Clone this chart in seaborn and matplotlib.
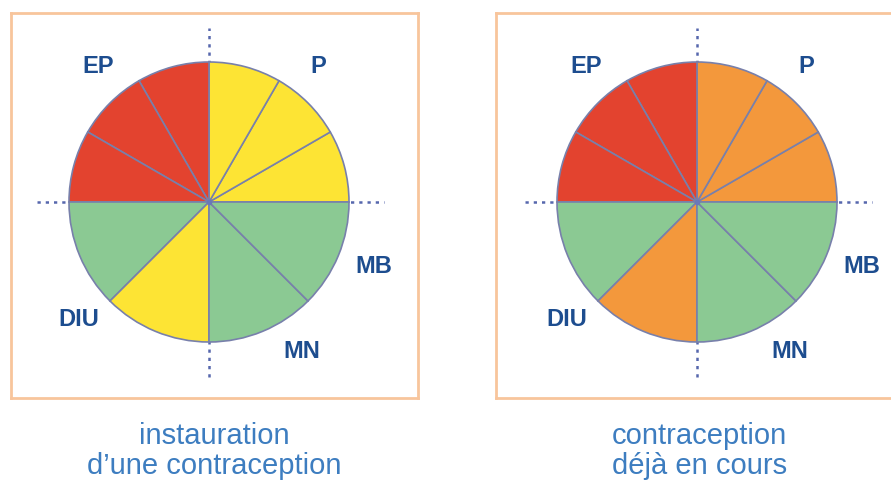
import matplotlib
matplotlib.use('Agg')
import matplotlib.pyplot as plt
import seaborn as sns

# slices, counter-clockwise from 3 o'clock (degrees)
slice_sizes = [30, 30, 30, 30, 30, 30, 45, 45, 45, 45]
# colour keys for each slice
left_slices = ['yellow', 'yellow', 'yellow', 'red', 'red', 'red', 'green', 'yellow', 'green', 'green']
right_slices = ['orange', 'orange', 'orange', 'red', 'red', 'red', 'green', 'orange', 'green', 'green']
method_labels = ['EP', 'P', 'MB', 'MN', 'DIU']
captions = ['instauration\nd\u2019une contraception', 'contraception\ndéjà en cours']

palette = {'red': '#e3432f', 'yellow': '#fde434', 'green': '#8bc993', 'orange': '#f3983c'}
label_pos = {'EP': (-0.79, 0.97), 'P': (0.78, 0.97), 'MB': (1.18, -0.46),
             'MN': (0.66, -1.07), 'DIU': (-0.93, -0.84)}

sns.set_theme(style='white')
plt.rcParams['font.family'] = ['Liberation Sans', 'DejaVu Sans']

fig = plt.figure(figsize=(8.91, 4.83), dpi=100)
W, H = 891, 483
R = 140.0

panels = [
    (left_slices, 11, 198, captions[0]),
    (right_slices, 496, 201, captions[1]),
]

for slices, x0, cx, cap in panels:
    ax = fig.add_axes([x0 / W, 85 / H, 407 / W, 385 / H])
    # dotted cross behind the pie
    ax.plot([-1.23, 1.25], [0, 0], ls=(0, (1.3, 2.0)), color='#5667ad', lw=1.8, zorder=0)
    ax.plot([0, 0], [-1.25, 1.24], ls=(0, (1.3, 2.0)), color='#5667ad', lw=1.8, zorder=0)
    ax.pie(slice_sizes, colors=[palette[c] for c in slices], startangle=0,
           counterclock=True, radius=1.0,
           wedgeprops=dict(edgecolor='#7880ab', linewidth=1.2))
    ax.plot([0], [0], 'o', ms=3, color='#6a78b8', zorder=5)
    for lab in method_labels:
        lx, ly = label_pos[lab]
        ax.text(lx, ly, lab, ha='center', va='center', fontsize=17,
                fontweight='bold', color='#1d4d8f')
    ax.set_aspect('auto')
    ax.set_xlim(-cx / R, (407 - cx) / R)
    ax.set_ylim(-196 / R, 189 / R)
    ax.set_frame_on(True)
    for sp in ax.spines.values():
        sp.set_visible(True)
        sp.set_color('#f8c59c')
        sp.set_linewidth(2)
    ax.set_xticks([])
    ax.set_yticks([])
    fig.text((x0 + 203.5) / W, 1 - 451 / H, cap, ha='center', va='center',
             fontsize=21, color='#3d7dc0', linespacing=1.08, fontweight='light')

fig.savefig('out.png', dpi=100)
